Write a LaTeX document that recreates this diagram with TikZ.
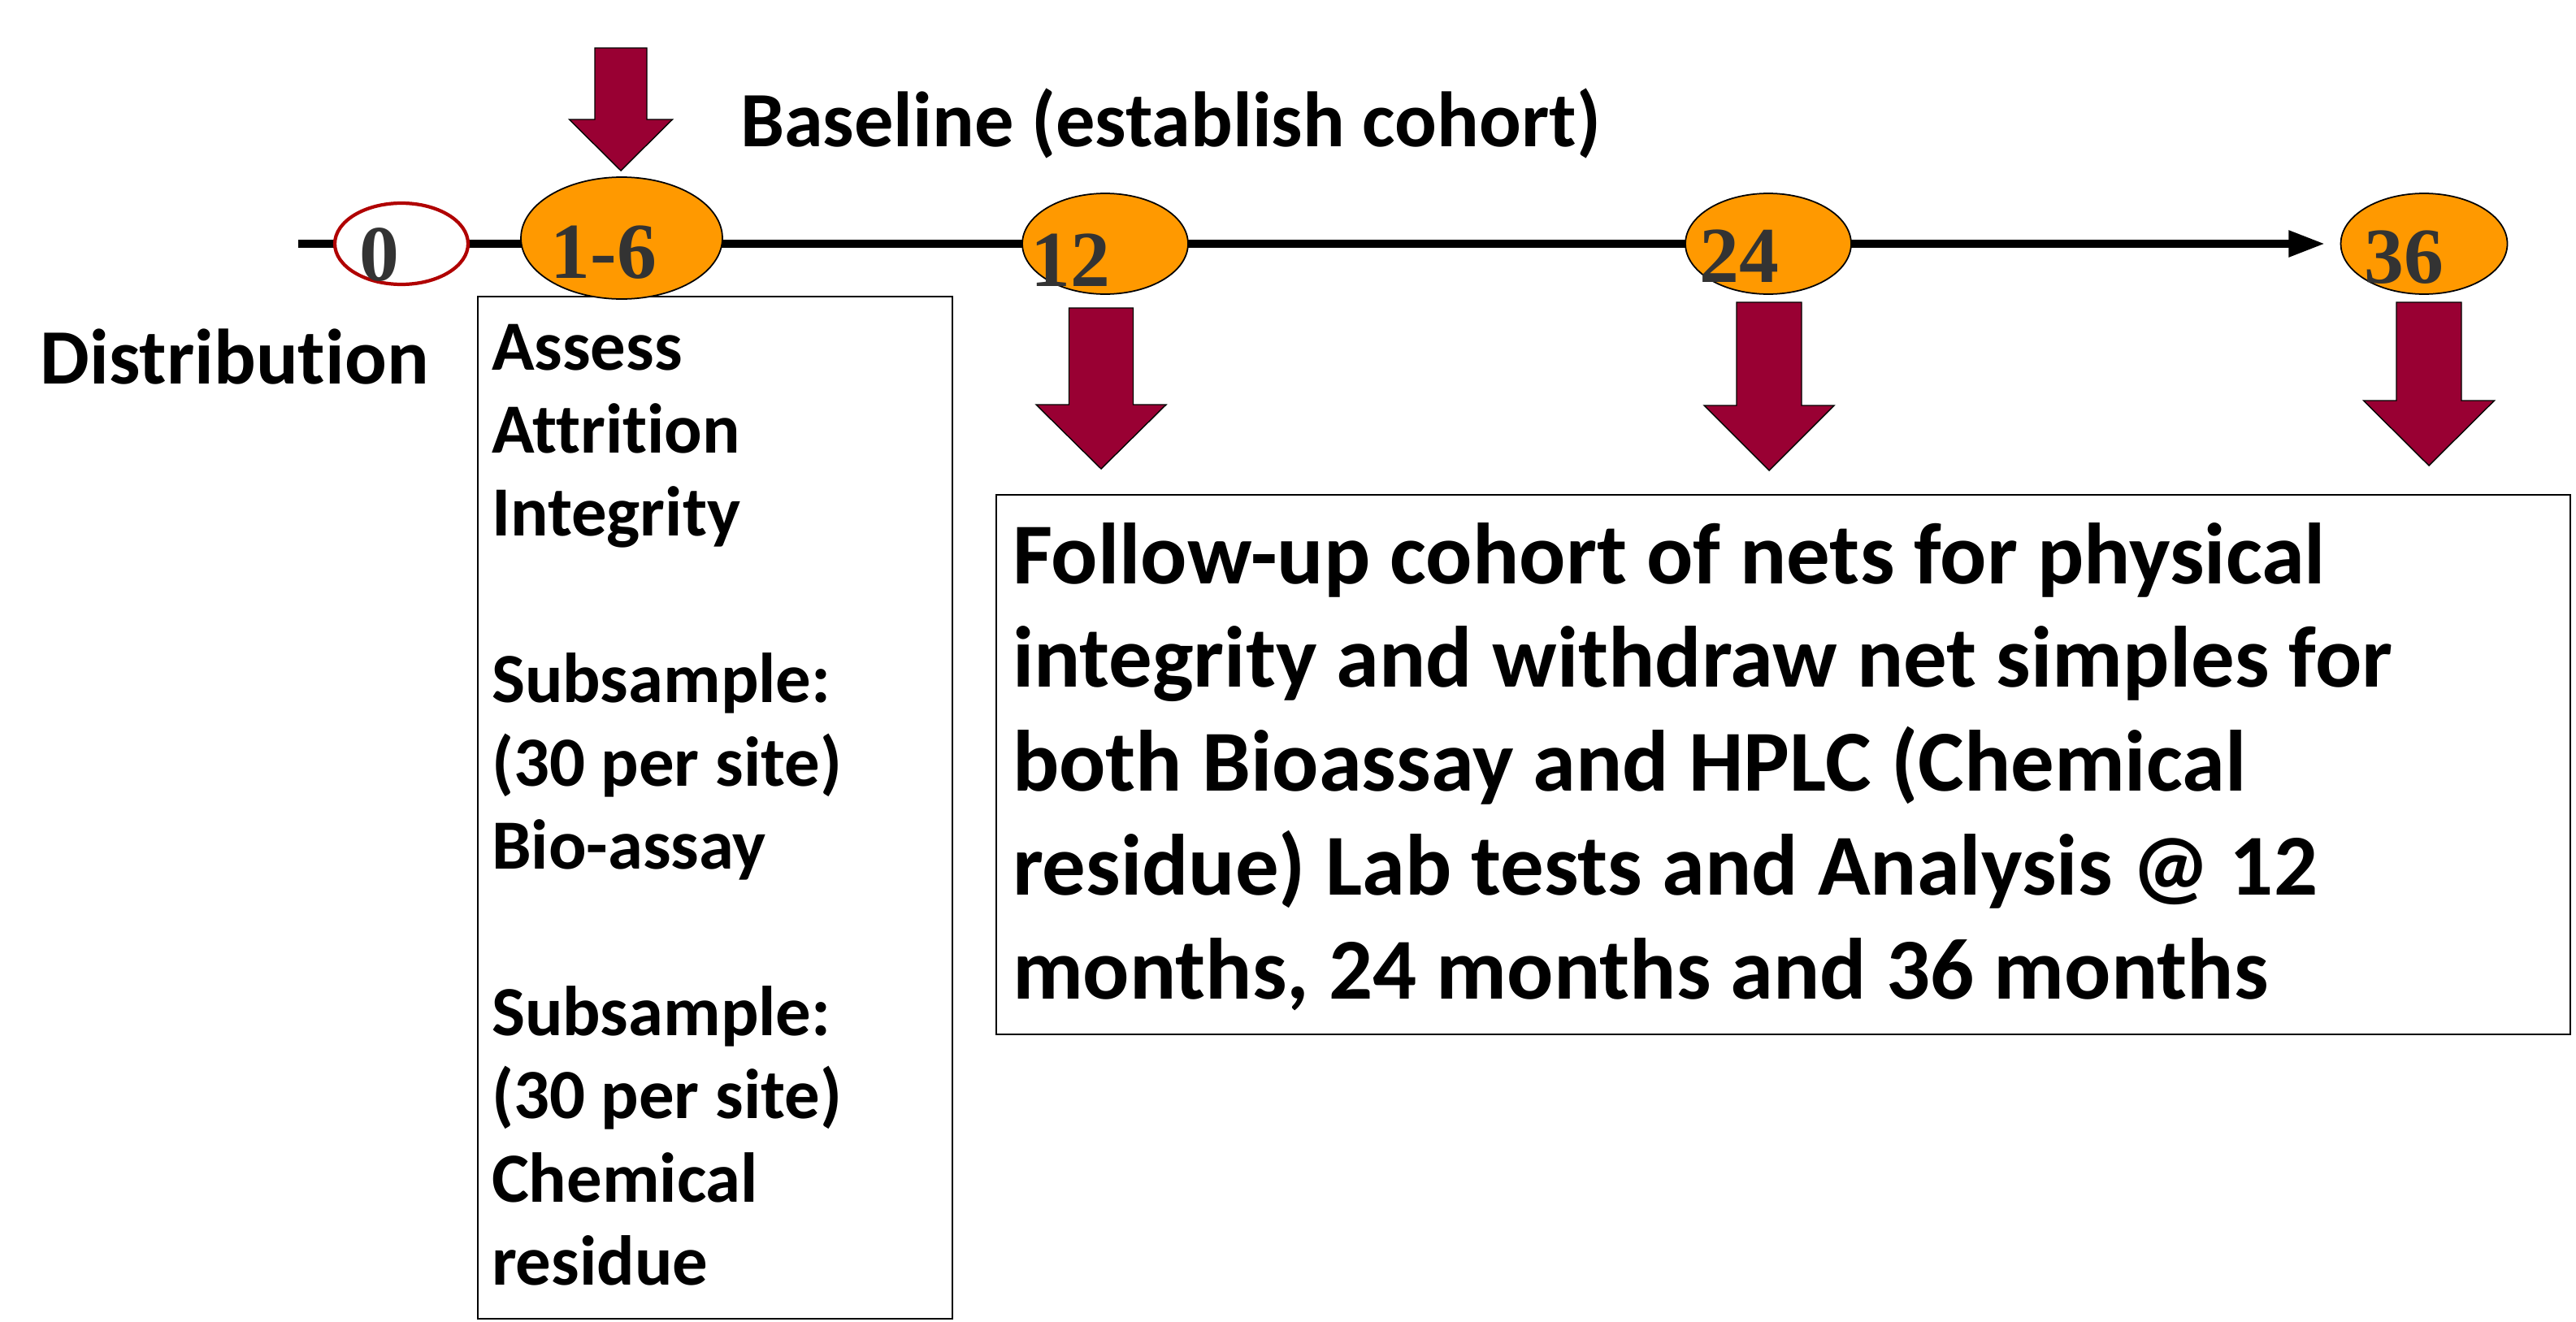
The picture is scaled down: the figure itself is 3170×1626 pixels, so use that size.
\documentclass[tikz,border=0pt]{standalone}
\usepackage{fontspec}
\setmainfont{Carlito}[Ligatures=NoCommon]
\newfontfamily\numfont{Liberation Serif}
\usetikzlibrary{shapes.geometric,arrows.meta,backgrounds}

\definecolor{wine}{HTML}{990033}
\definecolor{amber}{HTML}{FF9900}
\definecolor{digit}{HTML}{333333}
\definecolor{ringred}{HTML}{B00000}

\tikzset{
  x=0.02cm, y=-0.02cm,
  lbl/.style={inner sep=0pt, outer sep=0pt, font=\bfseries},
  num/.style={inner sep=0pt, outer sep=0pt, text=digit,
    font=\numfont\bfseries\fontsize{55.6}{60}\selectfont, anchor=base},
  milestone/.style={ellipse, draw=black, line width=1pt, fill=amber, inner sep=0pt},
  startring/.style={ellipse, draw=ringred, line width=2.4pt, fill=white, inner sep=0pt},
  timeline/.style={line width=6.2pt, -{Triangle[length=26pt,width=17pt]}},
  panel/.style={draw=black, line width=1.1pt},
  arrowfill/.style={fill=wine, draw=black, line width=0.8pt, line join=miter},
  pics/darrow/.style n args={4}{code={
    \draw[arrowfill] ({-#1/2},0) -- ({#1/2},0) -- ({#1/2},{#3-#4}) -- ({#2/2},{#3-#4})
      -- (0,#3) -- ({-#2/2},{#3-#4}) -- ({-#1/2},{#3-#4}) -- cycle;
  }}
}

\begin{document}
\begin{tikzpicture}
\useasboundingbox (0,0) rectangle (3170,1626);

% boxes
\draw[panel] (588,365) rectangle (1172,1623);
\draw[panel] (1226,609) rectangle (3163,1273);

% timeline milestones
\coordinate (t0) at (367,300);
\node[startring, minimum width=3.28cm, minimum height=2.0cm] (e0)  at (494,300) {};
\node[milestone, minimum width=4.96cm, minimum height=3.0cm] (e16) at (765,293) {};
\node[milestone, minimum width=4.08cm, minimum height=2.48cm] (e12) at (1360,300) {};
\node[milestone, minimum width=4.08cm, minimum height=2.48cm] (e24) at (2176,300) {};
\node[milestone, minimum width=4.10cm, minimum height=2.48cm] (e36) at (2983,300) {};

\begin{pgfonlayer}{background}
  \draw[timeline, shorten >=10pt] (t0) -- (t0 -| e36.west);
\end{pgfonlayer}

\node[num] (n0)  at (467,345) {0};
\node[num] (n16) at (743,342) {1-6};
\node[num] (n12) at (1317,352) {12};
\node[num] (n24) at (2140,347) {24};
\node[num] (n36) at (2958,348) {36};

% down arrows
\pic at (764,59)   {darrow={64}{127}{151}{63}};
\pic at (1355,379) {darrow={79}{160}{198}{79}};
\pic at (2177,372) {darrow={80}{160}{207}{80}};
\pic at (2989,372) {darrow={80}{161}{201}{80}};

% labels
\node[lbl, anchor=base west, font=\bfseries\fontsize{54.9}{60}\selectfont] (base) at (911,180) {Baseline (establish cohort)};
\node[lbl, anchor=base west, font=\bfseries\fontsize{54.9}{60}\selectfont] (dist) at (50,472) {Distribution};

\node[lbl, anchor=base west] (sub) at (605,455) {\parbox[t]{15cm}{\fontsize{49.4}{58.3}\selectfont\bfseries
  Assess\\Attrition\\Integrity\\\mbox{}\\Subsample:\\(30 per site)\\Bio-assay\\\mbox{}\\Subsample:\\(30 per site)\\Chemical\\residue}};

\node[lbl, anchor=base west] (follow) at (1246,718) {\parbox[t]{40cm}{\fontsize{60.8}{72.8}\selectfont\bfseries
  Follow-up cohort of nets for physical\\integrity and withdraw net simples for\\both Bioassay and HPLC (Chemical\\residue) Lab tests and Analysis @ 12\\months, 24 months and 36 months}};
\end{tikzpicture}
\end{document}
